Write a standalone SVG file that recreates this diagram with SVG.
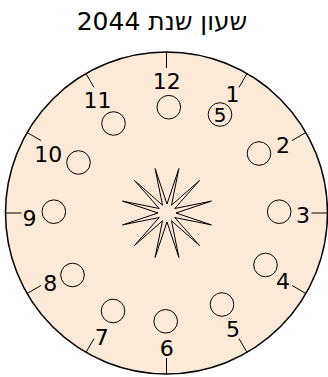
<svg xmlns="http://www.w3.org/2000/svg" width="328" height="377" viewBox="0 0 328 377">
<style>
.lbl{font-family:"DejaVu Sans","Liberation Sans",sans-serif;font-size:22px;fill:#000;text-anchor:middle}
.sm{fill:none;stroke:#000;stroke-width:1}
.tick{stroke:#000;stroke-width:1}
</style>
<rect width="328" height="377" fill="#fff"/>
<text x="162" y="30" class="lbl" style="font-size:25px" direction="rtl" unicode-bidi="embed">שעון שנת 2044</text>
<g id="dial">
<circle cx="166.5" cy="213" r="161" fill="#fde9d8" stroke="#000" stroke-width="1.5"/>
</g>
<g id="ticks">
<line class="tick" x1="166.5" y1="52" x2="166.5" y2="68"/>
<line class="tick" x1="247" y1="73.57" x2="239" y2="87.43"/>
<line class="tick" x1="305.93" y1="132.5" x2="292.07" y2="140.5"/>
<line class="tick" x1="327.5" y1="213" x2="311.5" y2="213"/>
<line class="tick" x1="305.93" y1="293.5" x2="292.07" y2="285.5"/>
<line class="tick" x1="247" y1="352.43" x2="239" y2="338.57"/>
<line class="tick" x1="166.5" y1="374" x2="166.5" y2="358"/>
<line class="tick" x1="86" y1="352.43" x2="94" y2="338.57"/>
<line class="tick" x1="27.07" y1="293.5" x2="40.93" y2="285.5"/>
<line class="tick" x1="5.5" y1="213" x2="21.5" y2="213"/>
<line class="tick" x1="27.07" y1="132.5" x2="40.93" y2="140.5"/>
<line class="tick" x1="86" y1="73.57" x2="94" y2="87.43"/>
</g>
<g id="labels">
<text class="lbl" x="166.7" y="89">12</text>
<text class="lbl" x="232.5" y="102">1</text>
<text class="lbl" x="283" y="153">2</text>
<text class="lbl" x="303" y="223">3</text>
<text class="lbl" x="283" y="289">4</text>
<text class="lbl" x="233" y="337">5</text>
<text class="lbl" x="166.7" y="356">6</text>
<text class="lbl" x="101.7" y="345">7</text>
<text class="lbl" x="50.3" y="291">8</text>
<text class="lbl" x="29.5" y="226">9</text>
<text class="lbl" x="48.3" y="161.7">10</text>
<text class="lbl" x="97.5" y="108.3">11</text>
</g>
<g id="slots">
<circle class="sm" cx="168.8" cy="107.2" r="11.8"/>
<circle class="sm" cx="220" cy="114.5" r="11.8"/>
<text class="lbl" x="220" y="121.8" style="font-size:20px">5</text>
<circle class="sm" cx="259" cy="153.5" r="11.8"/>
<circle class="sm" cx="279.2" cy="211.7" r="11.8"/>
<circle class="sm" cx="265.5" cy="265" r="11.8"/>
<circle class="sm" cx="222" cy="304.5" r="11.8"/>
<circle class="sm" cx="165.7" cy="321.3" r="11.8"/>
<circle class="sm" cx="113" cy="311" r="11.8"/>
<circle class="sm" cx="72.5" cy="275" r="11.8"/>
<circle class="sm" cx="53.8" cy="211.7" r="11.8"/>
<circle class="sm" cx="78.5" cy="162.5" r="11.8"/>
<circle class="sm" cx="113.5" cy="123.5" r="11.8"/>
</g>
<g id="star" transform="translate(167,213)">
<polygon fill="none" stroke="#000" stroke-width="1" stroke-linejoin="miter" stroke-miterlimit="40" points="0,-9 11.9,-44.43 4.5,-7.79 32.53,-32.53 7.79,-4.5 44.43,-11.9 9,0 44.43,11.9 7.79,4.5 32.53,32.53 4.5,7.79 11.9,44.43 0,9 -11.9,44.43 -4.5,7.79 -32.53,32.53 -7.79,4.5 -44.43,11.9 -9,0 -44.43,-11.9 -7.79,-4.5 -32.53,-32.53 -4.5,-7.79 -11.9,-44.43"/>
</g>
</svg>
